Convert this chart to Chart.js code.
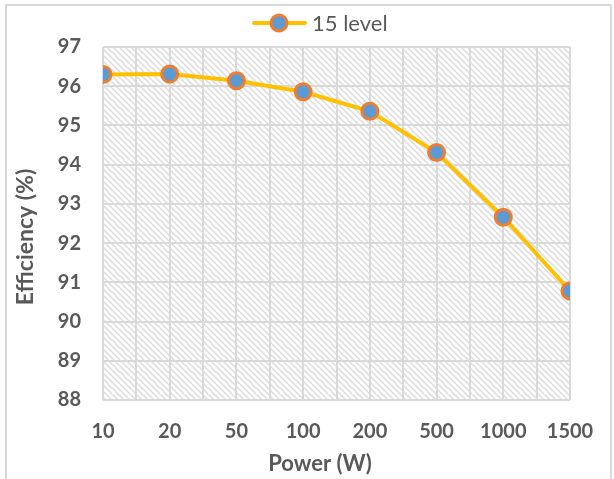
<!DOCTYPE html>
<html>
<head>
<meta charset="utf-8">
<script src="https://cdn.jsdelivr.net/npm/chart.js@4/dist/chart.umd.min.js"></script>
<style>
  html, body { margin: 0; padding: 0; background: #fff; }
  #wrap { position: relative; width: 614px; height: 479px; overflow: hidden; }
  #c { position: absolute; left: 0; top: 0; }
  #frame { position: absolute; left: 5px; top: 4px; width: 603px; height: 520px;
           border: 2px solid #d9d9d9; pointer-events: none; }
</style>
</head>
<body>
<div id="wrap">
  <canvas id="c" width="614" height="479"></canvas>
  <div id="frame"></div>
</div>
<script>
// Output power levels (W) and measured efficiency (%)
const powerLabels = ['10', '20', '50', '100', '200', '500', '1000', '1500'];
const efficiency15 = [96.30, 96.31, 96.14, 95.86, 95.36, 94.31, 92.66, 90.78];
const seriesName = '15 level';
const yTicks = [88, 89, 90, 91, 92, 93, 94, 95, 96, 97];
const xTitle = 'Power (W)';
const yTitle = 'Efficiency (%)';

const LINE = '#FFC000', MARK_FILL = '#5B9BD5', MARK_EDGE = '#ED7D31';
const TEXT = '#595959', GRID = '#d9d9d9';

// diagonal hatch fill for the plot area
function hatchPattern(ctx) {
  const t = document.createElement('canvas');
  const s = 6;
  t.width = s; t.height = s;
  const g = t.getContext('2d');
  g.strokeStyle = '#dcdcdc'; g.lineWidth = 1.5;
  g.beginPath();
  g.moveTo(-1, -1); g.lineTo(s + 1, s + 1);
  g.moveTo(-1, s - 1); g.lineTo(1, s + 1);
  g.moveTo(s - 1, -1); g.lineTo(s + 1, 1);
  g.stroke();
  return ctx.createPattern(t, 'repeat');
}

const hatchPlugin = {
  id: 'hatch',
  beforeDraw(chart) {
    const { ctx, chartArea: a } = chart;
    ctx.save();
    ctx.fillStyle = hatchPattern(ctx);
    ctx.fillRect(a.left, a.top, a.right - a.left, a.bottom - a.top);
    ctx.restore();
  }
};

// legend (line + marker + name) and the two axis titles
const annotatePlugin = {
  id: 'annotate',
  afterDraw(chart) {
    const { ctx } = chart;
    ctx.save();
    // legend symbol
    const cy = 23, cx = 279;
    ctx.strokeStyle = LINE; ctx.lineWidth = 4; ctx.lineCap = 'round';
    ctx.beginPath(); ctx.moveTo(254, cy); ctx.lineTo(305, cy); ctx.stroke();
    ctx.beginPath(); ctx.arc(cx, cy, 8, 0, Math.PI * 2);
    ctx.fillStyle = MARK_FILL; ctx.fill();
    ctx.lineWidth = 3; ctx.strokeStyle = MARK_EDGE; ctx.stroke();
    // legend text
    ctx.fillStyle = TEXT;
    ctx.font = '22px Lato';
    ctx.textAlign = 'left'; ctx.textBaseline = 'middle';
    ctx.fillText(seriesName, 312, cy + 1);
    // x title
    ctx.font = 'bold 22px Lato';
    ctx.textAlign = 'center';
    ctx.fillText(xTitle, 320, 464);
    // y title
    ctx.translate(26, 237);
    ctx.rotate(-Math.PI / 2);
    ctx.font = 'bold 23px Lato';
    ctx.fillText(yTitle, 0, 0);
    ctx.restore();
  }
};

const fontTick = { family: 'Lato', size: 20, weight: 'bold' };

new Chart(document.getElementById('c'), {
  type: 'line',
  data: {
    datasets: [{
      label: seriesName,
      data: efficiency15.map((v, i) => ({ x: i, y: v })),
      borderColor: LINE,
      borderWidth: 4,
      backgroundColor: MARK_FILL,
      pointBackgroundColor: MARK_FILL,
      pointBorderColor: MARK_EDGE,
      pointBorderWidth: 3,
      pointRadius: 8,
      pointStyle: 'circle',
      tension: 0,
      fill: false
    }]
  },
  options: {
    responsive: false,
    animation: false,
    layout: { padding: { left: 0, right: 44, top: 47, bottom: 0 } },
    plugins: {
      tooltip: { enabled: false },
      legend: { display: false }
    },
    scales: {
      x: {
        type: 'linear',
        min: 0,
        max: powerLabels.length - 1,
        afterBuildTicks(scale) {
          const t = [];
          for (let v = 0; v <= powerLabels.length - 1 + 1e-9; v += 0.5) t.push({ value: v });
          scale.ticks = t;
        },
        afterFit(scale) { scale.height = 79; },
        ticks: {
          autoSkip: false,
          maxRotation: 0,
          color: TEXT,
          font: fontTick,
          padding: 20,
          callback: v => Number.isInteger(v) ? powerLabels[v] : ''
        },
        grid: { color: GRID, lineWidth: 2, drawTicks: false },
        border: { display: false }
      },
      y: {
        min: yTicks[0],
        max: yTicks[yTicks.length - 1],
        afterBuildTicks(scale) { scale.ticks = yTicks.map(v => ({ value: v })); },
        afterFit(scale) { scale.width = 103; },
        ticks: { color: TEXT, font: fontTick, padding: 22 },
        grid: { color: GRID, lineWidth: 2, drawTicks: false },
        border: { display: false }
      }
    }
  },
  plugins: [hatchPlugin, annotatePlugin]
});
</script>
</body>
</html>
